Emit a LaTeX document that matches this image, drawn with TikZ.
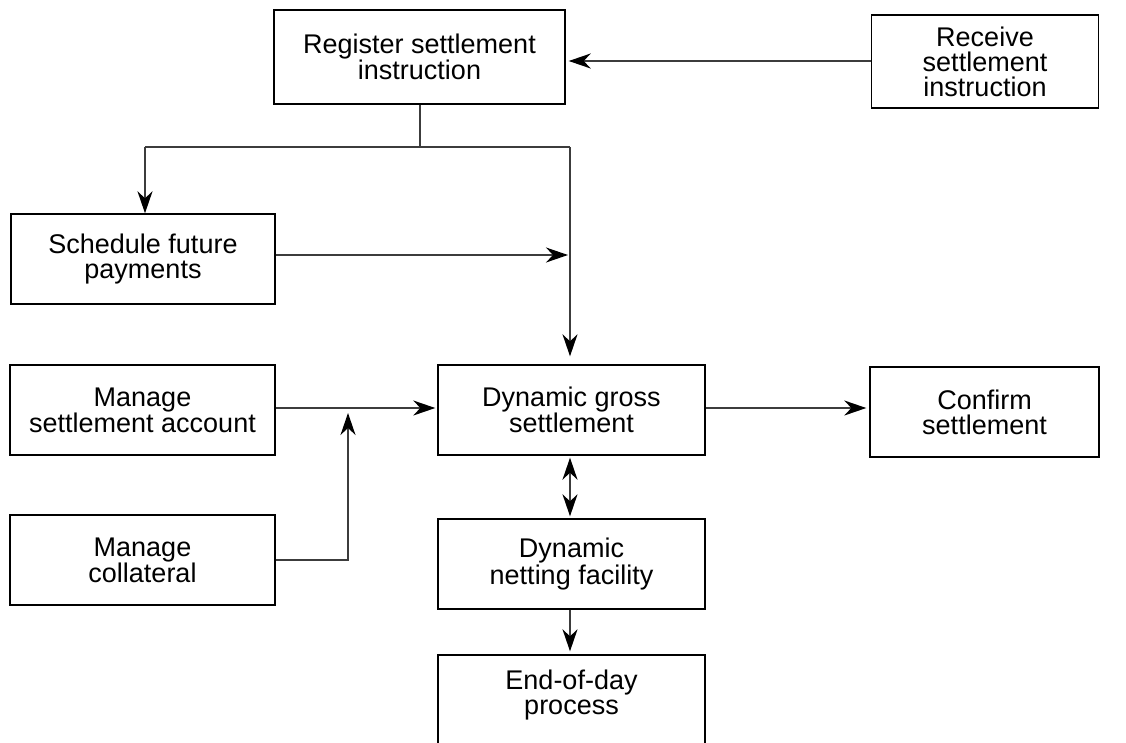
\documentclass[tikz,border=0pt]{standalone}
\usepackage{fontspec}
\setmainfont{Liberation Sans}
\usetikzlibrary{arrows.meta}
\definecolor{linegray}{HTML}{3C3C3C}
\tikzset{
  box/.style={draw=black, line width=1.4pt, fill=white, align=center, inner sep=2pt,
    font=\fontsize{27}{25}\selectfont},
  conn/.style={draw=linegray, line width=1.6pt},
  arr/.style={conn, -{Stealth[length=22pt,width=15pt,inset=7pt,color=black]}},
  darr/.style={conn, {Stealth[length=22pt,width=15pt,inset=7pt,color=black]}-{Stealth[length=22pt,width=15pt,inset=7pt,color=black]}}
}
\begin{document}
\begin{tikzpicture}[x=1pt,y=-1pt]
\clip (0,0) rectangle (1126,742);
\fill[white] (0,0) rectangle (1126,742);
% nodes
\node[box, minimum width=291pt, minimum height=94pt] (reg) at (419.5,57) {Register settlement\\instruction};
\node[box, minimum width=227pt, minimum height=93pt] (rec) at (985,61.5) {Receive\\settlement\\instruction};
\node[box, minimum width=264pt, minimum height=90pt] (sched) at (143,259) {Schedule future\\payments};
\node[box, minimum width=265pt, minimum height=90pt] (msa) at (142.5,410) {Manage\\settlement account};
\node[box, minimum width=265pt, minimum height=90pt] (mcol) at (142.5,560) {Manage\\collateral};
\node[box, minimum width=267pt, minimum height=90pt] (dgs) at (571.5,410) {Dynamic gross\\settlement};
\node[box, minimum width=229pt, minimum height=90pt] (conf) at (984.5,412) {Confirm\\settlement};
\node[box, minimum width=267pt, minimum height=90pt] (dnf) at (571.5,564) {Dynamic\\netting facility};
\node[box, minimum width=267pt, minimum height=100pt] (eod) at (571.5,705) {End-of-day\\process\\\mbox{}};
% junction coordinates
\coordinate (j1) at (420,147);
\coordinate (jl) at (145,147);
\coordinate (jr) at (570,147);
\coordinate (jm) at (570,255);
\coordinate (jc) at (348,408);
% connectors
\draw[arr, shorten >=3pt] (rec.west |- 0,61) -- (reg.east |- 0,61);
\draw[conn] (reg.south -| j1) -- (j1);
\draw[conn] (jl) -- (jr);
\draw[arr] (jl) -- (sched.north -| jl);
\draw[arr, shorten >=8pt] (jr) -- (dgs.north -| jr);
\draw[arr, shorten >=2pt] (sched.east |- jm) -- (jm);
\draw[arr, shorten >=2pt] (msa.east |- 0,408) -- (dgs.west |- 0,408);
\draw[arr, shorten >=5pt] (mcol.east |- 0,560) -| (jc);
\draw[arr, shorten >=3pt] (dgs.east |- 0,408) -- (conf.west |- 0,408);
\draw[darr, shorten >=2pt, shorten <=2pt] (dgs.south -| jr) -- (dnf.north -| jr);
\draw[arr, shorten >=3pt] (dnf.south -| jr) -- (eod.north -| jr);
\end{tikzpicture}
\end{document}
